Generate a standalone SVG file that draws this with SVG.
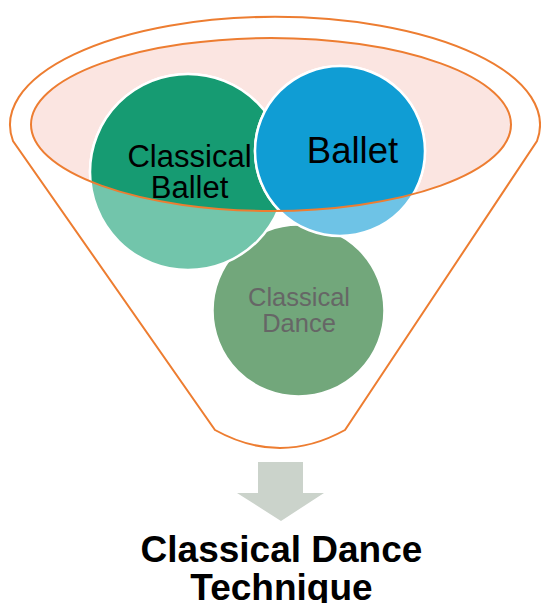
<svg xmlns="http://www.w3.org/2000/svg" width="541" height="603" viewBox="0 0 541 603">
<style>
.funnel{fill:none;stroke:#ED7D31;stroke-width:2}
.circ{stroke:#FFFFFF;stroke-width:2.5}
.lbl{font-family:"Liberation Sans",Arial,sans-serif;text-anchor:middle}
</style>
<defs>
<clipPath id="bowl"><ellipse cx="271" cy="124.5" rx="240" ry="86.5"/></clipPath>
</defs>
<rect width="541" height="603" fill="#FFFFFF"/>
<g id="funnel">
<path class="funnel" d="M13 141 A265 108 0 1 1 537 141 L345 430 Q280 466 215 430 Z"/>
<ellipse cx="271" cy="124.5" rx="240" ry="86.5" fill="#FBE5E1"/>
</g>
<g id="node-classical-dance">
<circle class="circ" cx="298.5" cy="310.5" r="86" fill="#72A77B"/>
<text class="lbl" x="299" y="306" font-size="25.5" fill="#666666">Classical</text>
<text class="lbl" x="299" y="332" font-size="25.5" fill="#666666">Dance</text>
</g>
<g id="node-classical-ballet">
<circle class="circ" cx="188" cy="172" r="98" fill="#72C5AB"/>
<circle class="circ" cx="188" cy="172" r="98" fill="#169B72" clip-path="url(#bowl)"/>
</g>
<g id="node-ballet">
<circle class="circ" cx="340" cy="151" r="85" fill="#6EC3E6"/>
<circle class="circ" cx="340" cy="151" r="85" fill="#109DD4" clip-path="url(#bowl)"/>
</g>
<ellipse id="bowl-rim" cx="271" cy="124.5" rx="240" ry="86.5" fill="none" stroke="#ED7D31" stroke-width="2"/>
<g id="labels">
<text class="lbl" x="189.5" y="167" font-size="31" fill="#000000">Classical</text>
<text class="lbl" x="189.5" y="198" font-size="31" fill="#000000">Ballet</text>
<text class="lbl" x="352.5" y="163" font-size="36.5" fill="#000000">Ballet</text>
</g>
<g id="connectors">
<path d="M258 462 H303 V493 H324 L281 521 L237 493 H258 Z" fill="#CBD3CB"/>
</g>
<g id="node-result">
<text class="lbl" x="281.5" y="562" font-size="37" font-weight="bold" fill="#000000">Classical Dance</text>
<text class="lbl" x="281.5" y="600" font-size="37" font-weight="bold" fill="#000000">Technique</text>
</g>
</svg>
